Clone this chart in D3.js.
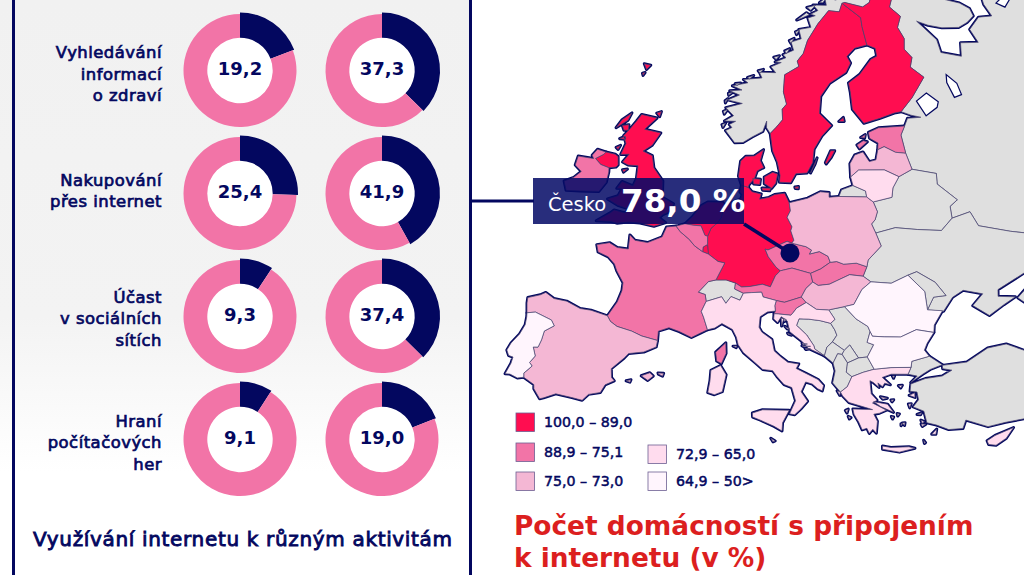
<!DOCTYPE html>
<html lang="cs">
<head>
<meta charset="utf-8">
<script src="https://cdn.jsdelivr.net/npm/d3@7"></script>
<style>
html, body { margin: 0; padding: 0; background: #fff; overflow: hidden; }
svg { display: block; font-family: "DejaVu Sans", sans-serif; }
</style>
</head>
<body>
<div id="chart"></div>
<script>
// donut data
const activities = [
  ["Vyhledávání", "informací", "o zdraví"],
  ["Nakupování", "přes internet"],
  ["Účast", "v sociálních", "sítích"],
  ["Hraní", "počítačových", "her"]
]
const valuesLeft = [19.2, 25.4, 9.3, 9.1]
const valuesRight = [37.3, 41.9, 37.4, 19.0]

// legend
const legendLabels = ["100,0 – 89,0", "88,9 – 75,1", "75,0 – 73,0", "72,9 – 65,0", "64,9 – 50>"]
const classColors = ["#ff0d50", "#f274a7", "#f4b7d4", "#ffdcee", "#fff5fd"]
const noData = "#dfdfdf"

// country outlines, [lon, lat]
const portugal = [[[-8.9,41.9],[-8.2,42.15],[-6.6,41.95],[-6.2,41.6],[-6.9,41],[-6.9,40.3],[-7,39.7],[-7.4,39.6],[-7,39],[-7.3,38.4],[-7,38.2],[-7.5,37.5],[-7.4,37.2],[-7.9,37],[-8.6,37.1],[-9,37],[-8.8,37.9],[-8.8,38.4],[-9.2,38.4],[-9.5,38.75],[-9.35,39.35],[-8.9,40.2],[-8.7,41],[-8.8,41.6]]]
const spain = [[[-8.9,41.9],[-9.2,42.6],[-9.3,43],[-8.3,43.5],[-7.9,43.8],[-7,43.55],[-5.8,43.65],[-4.4,43.4],[-3.4,43.5],[-1.8,43.4],[-1.4,43.05],[-0.7,42.8],[0.7,42.7],[1.7,42.5],[3.2,42.4],[3.2,41.9],[2.2,41.35],[0.9,41],[0.6,40.6],[-0.3,39.6],[-0.1,38.95],[0.2,38.75],[-0.5,38.3],[-0.75,37.65],[-1.7,37.3],[-2.1,36.75],[-3,36.75],[-4.4,36.7],[-5.3,36.15],[-5.6,36],[-6.3,36.6],[-6.4,36.9],[-7.4,37.2],[-7.5,37.5],[-7,38.2],[-7.3,38.4],[-7,39],[-7.4,39.6],[-7,39.7],[-6.9,40.3],[-6.9,41],[-6.2,41.6],[-6.6,41.95],[-8.2,42.15]],
  [[2.4,39.55],[3.1,39.9],[3.45,39.7],[3.05,39.3]],[[3.8,40],[4.3,40.05],[4.25,39.82],[3.85,39.92]],[[1.2,38.95],[1.6,39.1],[1.55,38.9]]]
const france = [[[-1.8,43.4],[-1.25,44.6],[-1.1,45.5],[-1.2,46.1],[-2.1,46.85],[-2.5,47.3],[-3.3,47.7],[-4.4,47.85],[-4.75,48.35],[-3.6,48.75],[-2.7,48.55],[-1.6,48.65],[-1.85,49.7],[-1.2,49.4],[0.1,49.45],[1.4,50.1],[1.6,50.9],[2.55,51.1],[3.1,50.75],[4.2,50.3],[4.85,49.9],[5.8,49.55],[6.4,49.45],[7.5,49],[8.2,48.95],[7.6,47.6],[6.9,47.4],[6.1,46.5],[6.8,46.4],[7,45.9],[6.7,45.1],[7,44.7],[7.55,43.8],[7,43.5],[6.2,43.05],[5,43.35],[4,43.5],[3.1,43.1],[3.2,42.4],[1.7,42.5],[0.7,42.7],[-0.7,42.8],[-1.4,43.05]],
  [[9.4,43],[9.55,42.2],[9.25,41.4],[8.8,41.55],[8.6,42.2],[9.1,42.7]]]
const italy = [[[7.55,43.8],[8.2,44],[8.8,44.4],[9.85,44.05],[10.3,43.5],[10.55,42.95],[11.1,42.4],[12.2,41.75],[13,41.25],[13.9,41.2],[14.3,40.8],[15,40.2],[15.7,40],[16.1,39],[15.65,38],[16.1,37.95],[16.6,38.4],[17.15,39],[16.55,39.7],[16.9,40.45],[17.5,40.3],[18,39.95],[18.4,39.8],[18.5,40.2],[18,40.65],[16.9,41.1],[16,41.45],[16.2,41.8],[15.2,41.9],[14.5,42.3],[13.9,42.7],[13.6,43.55],[12.6,44.05],[12.3,44.4],[12.3,45.2],[12.95,45.6],[13.7,45.7],[13.6,46.1],[13.7,46.5],[12.4,46.7],[12.2,47.05],[11.2,46.95],[10.45,46.85],[10.2,46.3],[9.3,46.5],[8.9,45.95],[8.4,46.4],[7,45.9],[6.7,45.1],[7,44.7]],
  [[8.4,40.8],[9.2,41.25],[9.8,40.6],[9.65,39.3],[9,39],[8.4,39.1],[8.45,40]],
  [[12.45,37.9],[13.3,38.2],[15.6,38.27],[15.1,37.3],[15.1,36.68],[14.4,37],[13.2,37.4],[12.5,37.6]],
  [[10.1,42.8],[10.45,42.85],[10.4,42.72]],[[14.2,36.08],[14.58,35.9],[14.4,35.82]]]
const britain = [[[1.4,51.2],[0.3,50.75],[-1.2,50.75],[-2.4,50.6],[-3.5,50.3],[-4.1,50.3],[-5.6,50.05],[-4.5,50.9],[-4.2,51.2],[-3,51.2],[-2.7,51.55],[-4,51.6],[-5.25,51.85],[-4.3,52.3],[-4.15,52.9],[-4.7,52.8],[-4.4,53.4],[-3.1,53.3],[-3,53.9],[-3.3,54.85],[-4.4,54.7],[-5.1,54.8],[-4.7,55.5],[-5.6,55.3],[-5.5,56.2],[-6.1,56.7],[-5.7,57.3],[-5.3,58],[-5,58.6],[-3.05,58.65],[-4,57.6],[-2,57.65],[-2.5,56.6],[-3.3,56],[-2.1,55.85],[-1.5,55],[-0.1,54.2],[0.2,53.4],[0.35,53],[1.7,52.7],[1.6,52.1],[0.9,51.75],[0.6,51.45]],
  [[-5.45,54.5],[-5.8,55.1],[-6.2,55.2],[-7.3,55.15],[-7.4,54.95],[-8.1,54.45],[-7.3,54.15],[-6.3,54.1],[-5.6,54.3]],
  [[-7,57.8],[-6.2,58.5],[-6.3,57.9],[-7.3,57.1]],[[-6.7,57.4],[-6,57.6],[-5.8,57.2],[-6.3,57.1]],[[-6.4,56.4],[-5.7,56.5],[-5.9,56.7]],[[-6.4,55.7],[-6,55.95],[-6.1,55.6]],[[-3.3,59],[-2.8,59.2],[-2.8,58.8]],[[-4.6,54.1],[-4.3,54.4],[-4.8,54.25]],
  [[-7.3,62.25],[-6.4,62.3],[-6.7,61.9]],[[-7,61.55],[-6.7,61.65],[-6.8,61.4]]]
const ireland = [[[-6.3,54.1],[-7.3,54.15],[-8.1,54.45],[-7.4,54.95],[-7.3,55.15],[-8.3,55.15],[-8.6,54.6],[-8.3,54.4],[-10,54.2],[-9.9,53.5],[-9,53.2],[-9.5,52.6],[-10.3,52.1],[-9.7,51.5],[-8.3,51.8],[-6.4,52.2],[-6,53],[-6.15,53.8]]]
const germany = [[[8.65,54.9],[9.45,54.8],[9.95,54.5],[11,54.4],[10.9,54],[11.9,54.2],[12.5,54.45],[13.6,54.6],[14.2,53.9],[14.4,53.3],[14.1,52.8],[14.7,52.1],[14.6,51.8],[15,51.1],[14.8,50.87],[14.3,51],[13.4,50.65],[12.4,50.25],[12.1,50.3],[12.5,49.75],[13.4,49],[13.85,48.75],[13.4,48.35],[13,47.5],[12.2,47.65],[11,47.4],[10.2,47.3],[9.55,47.55],[8.6,47.7],[7.6,47.6],[8.2,48.95],[7.5,49],[6.4,49.45],[6.15,50.15],[6,50.75],[6.2,51.4],[6.8,51.9],[7.05,52.3],[7.2,53.25],[8.1,53.6],[8.8,53.85],[8.9,54.2],[8.6,54.4]]]
const netherlands = [[[3.4,51.4],[4,52],[4.7,52.95],[5.3,53.3],[6.9,53.45],[7.2,53.25],[7.05,52.3],[6.8,51.9],[6.2,51.4],[6,50.75],[5.7,50.8],[5.1,51.45],[4.3,51.4]]]
const belgium = [[[2.55,51.1],[3.4,51.4],[4.3,51.4],[5.1,51.45],[5.7,50.8],[6,50.75],[6.15,50.15],[5.75,49.9],[5.8,49.55],[4.85,49.9],[4.2,50.3],[3.1,50.75]]]
const luxembourg = [[[6.15,50.15],[6.4,49.45],[5.8,49.55],[5.75,49.9]]]
const denmark = [[[8.65,54.9],[8.15,55.55],[8.1,56.7],[8.6,57.1],[9.6,57.2],[10.6,57.74],[10.4,56.9],[10.9,56.4],[10.2,56.1],[10,55.5],[9.5,55],[9.45,54.8]],
  [[11.1,55.7],[12,56.1],[12.6,56],[12.5,55.3],[12.1,54.9],[11.2,55.2]],[[9.8,55.5],[10.7,55.5],[10.7,55.1],[10,55.1]],[[11,54.85],[12,54.9],[11.9,54.7],[11.1,54.7]],[[14.7,55.1],[15.1,55.15],[15.1,54.98],[14.75,55]]]
const sweden = [[[11.15,59],[11.7,57.7],[12.4,56.9],[12.9,55.9],[12.9,55.4],[14.2,55.4],[14.7,56.1],[16,56.2],[16.6,57],[16.7,58],[17.6,59],[18.8,59.8],[17.2,60.7],[17.3,62],[18.5,63],[20.8,63.8],[21.5,64.5],[21,65],[22.2,65.6],[24.1,65.8],[23.6,67.2],[23.5,67.9],[20.5,69.05],[20,68.4],[18.2,68.5],[16.5,67.5],[15,66.2],[14.5,65.2],[13.7,64.6],[14,64.2],[12.1,63.5],[12.2,62.2],[12.8,61.3],[12.3,60.9],[12.5,60.1],[11.8,59.5]],
  [[18.1,57],[18.7,57.9],[19.2,57.9],[18.8,57.4],[18.2,56.9]],[[16.4,56.2],[17.1,57.35],[16.9,56.9]]]
const finland = [[[24.1,65.8],[25.3,65.5],[25.4,64.9],[24.5,64.7],[22.7,63.6],[21.1,63],[21.3,62.3],[21.5,61],[22.9,59.9],[25,60.2],[26.9,60.5],[27.8,60.55],[29.5,61.5],[31.6,62.9],[30,63.8],[30.5,64.5],[29.6,65.2],[29.9,66],[29.2,66.9],[30,67.7],[28.5,68.5],[29,69],[29.3,69.5],[28.9,70],[27.9,70.1],[26,69.9],[25.2,69],[24,68.7],[21,69.1],[20.5,69.05],[23.5,67.9],[23.6,67.2]],
  [[19.7,60.1],[20.3,60.4],[20.4,60.1]]]
const norway = [[[11.15,59],[10.6,59.4],[10.5,59.9],[10.2,59.1],[9,58.6],[8,58.1],[7,58],[5.6,58.8],[6.3,59.1],[5.9,59.3],[6.6,59.6],[5.2,59.5],[6.2,60],[5,60.5],[7,61],[5,61.1],[6.4,61.6],[5,61.8],[6.6,62],[5.2,62.2],[7.2,62.6],[6.5,62.8],[9,63.1],[8.5,63.5],[10.8,63.6],[10,64],[11.4,64.4],[10.5,64.4],[12,64.8],[11.5,65],[13,65.4],[12.5,66],[14,66.3],[13.5,67],[15.4,67.2],[14.8,67.9],[16,68.1],[15.2,68.2],[16.4,68.5],[15.5,68.9],[17.8,68.9],[17.5,69.5],[19.5,69.3],[19,70.1],[21,69.8],[21,70.2],[23,70],[23.5,70.9],[25.3,70.2],[25.8,71.1],[28.5,71],[28,70.3],[31,70.3],[29,69.7],[30.8,69.8],[29.3,69.5],[28.9,70],[27.9,70.1],[26,69.9],[25.2,69],[24,68.7],[21,69.1],[20.5,69.05],[20,68.4],[18.2,68.5],[16.5,67.5],[15,66.2],[14.5,65.2],[13.7,64.6],[14,64.2],[12.1,63.5],[12.2,62.2],[12.8,61.3],[12.3,60.9],[12.5,60.1],[11.8,59.5]],
  // skerries and islands off the coast
  [[5,59.2],[5.4,59.35],[5.2,59]],[[4.8,60.2],[5.3,60.4],[5,60]],[[4.7,61],[5,61.2],[4.8,60.85]],[[4.9,61.6],[5.4,61.7],[5,61.45]],[[5.5,62.4],[6.2,62.5],[5.8,62.25]],[[7,63],[7.8,63.2],[7.3,62.9]],[[8.3,63.6],[9,63.75],[8.6,63.45]],[[10.2,64.75],[11,64.9],[10.6,64.6]],[[11.7,65.3],[12.4,65.5],[12,65.1]],[[12.2,66.1],[12.9,66.3],[12.5,65.9]],[[13,66.8],[13.6,66.95],[13.2,66.6]],[[13,67.7],[14.5,68.3],[15,68.15],[13.5,67.8]],[[14.5,68.7],[16,68.9],[15.2,68.5]],[[16.6,69.1],[17.9,69.55],[17.2,69.1]],[[17.9,69.8],[19.2,70.1],[18.5,69.6]],[[19.8,70.1],[20.6,70.3],[20.2,69.9]],[[21.6,70.3],[22.9,70.65],[22.2,70.25]],[[23.2,71.05],[24.8,71.1],[24,70.75]]]
const switzerland = [[[6.1,46.5],[6.9,47.4],[7.6,47.6],[8.6,47.7],[9.55,47.55],[9.55,47.1],[10.45,46.85],[10.2,46.3],[9.3,46.5],[8.9,45.95],[8.4,46.4],[7,45.9],[6.8,46.4]]]
const austria = [[[9.55,47.55],[10.2,47.3],[11,47.4],[12.2,47.65],[13,47.5],[13.4,48.35],[13.85,48.75],[15,49],[16.9,48.65],[17.15,48],[16.5,47.5],[16.1,46.85],[14.5,46.4],[13.7,46.5],[12.4,46.7],[12.2,47.05],[11.2,46.95],[10.45,46.85],[9.55,47.1]]]
const czechia = [[[12.1,50.3],[12.4,50.25],[13.4,50.65],[14.3,51],[14.8,50.87],[16.3,50.65],[16.9,50.4],[16.7,50.1],[17.7,50.3],[18.6,49.95],[18.85,49.5],[17.9,49],[16.9,48.65],[15,49],[13.85,48.75],[13.4,49],[12.5,49.75]]]
const slovakia = [[[16.9,48.65],[17.9,49],[18.85,49.5],[19.5,49.55],[20.2,49.35],[21.5,49.4],[22.55,49.1],[22.15,48.4],[20.8,48.55],[19.5,48.1],[18.8,47.85],[17.7,47.75],[17.15,48]]]
const poland = [[[14.2,53.9],[16.2,54.3],[17.6,54.8],[18.6,54.75],[18.6,54.4],[19.7,54.45],[22.8,54.35],[23.5,53.95],[23.9,53.2],[23.6,52.6],[23.2,52.3],[23.6,51.6],[24.1,50.6],[22.7,49.6],[22.55,49.1],[21.5,49.4],[20.2,49.35],[19.5,49.55],[18.85,49.5],[18.6,49.95],[17.7,50.3],[16.7,50.1],[16.9,50.4],[16.3,50.65],[14.8,50.87],[15,51.1],[14.6,51.8],[14.7,52.1],[14.1,52.8],[14.4,53.3]]]
const hungary = [[[16.1,46.85],[16.5,47.5],[17.15,48],[17.7,47.75],[18.8,47.85],[19.5,48.1],[20.8,48.55],[22.15,48.4],[22.9,47.95],[22,47.4],[21.2,46.3],[20.3,46.15],[19,45.95],[18.8,45.9],[17.6,45.95],[16.6,46.45]]]
const slovenia = [[[13.7,46.5],[14.5,46.4],[16.1,46.85],[16.6,46.45],[15.7,46],[15.4,45.65],[15.2,45.45],[14,45.5],[13.6,45.5],[13.7,45.7],[13.6,46.1]]]
const croatia = [[[13.6,45.5],[14,45.5],[15.2,45.45],[15.4,45.65],[15.7,46],[16.6,46.45],[17.6,45.95],[18.8,45.9],[19.4,45.2],[19,44.9],[18,45.1],[16.9,45.2],[16,45.2],[15.8,44.7],[16.1,44.5],[16.8,44],[17.5,43.2],[17.6,42.95],[18.5,42.45],[17,43],[16.4,43.5],[15.2,44.2],[14.9,45],[14.3,45.3],[14,44.85],[13.6,45.1]],
  [[14.3,45.2],[14.55,45.15],[14.4,44.6]],[[14.5,45.2],[14.8,45.1],[14.65,44.95]],[[14.7,44.6],[15.2,44.4],[14.95,44.4]],[[16.4,43.38],[16.9,43.32],[16.5,43.26]],[[16.4,43.18],[17.2,43.15],[16.6,43.1]],[[16.7,42.97],[17.2,42.97],[16.8,42.9]],[[15,44.1],[15.4,43.95],[15.1,44]]]
const bosnia = [[[15.8,44.7],[16,45.2],[16.9,45.2],[18,45.1],[19,44.9],[19.4,44.4],[19.6,44],[19.2,43.5],[18.7,43.1],[18.5,42.45],[17.6,42.95],[17.5,43.2],[16.8,44],[16.1,44.5]]]
const serbia = [[[19,45.95],[20.3,46.15],[21.4,45.2],[22.5,44.6],[22.7,44.2],[22.4,43.4],[23,43.2],[22.4,42.3],[21.6,42.25],[20.8,43.25],[20.3,42.85],[19.2,43.5],[19.6,44],[19.4,44.4],[19,44.9],[19.4,45.2],[18.8,45.9]]]
const montenegro = [[[18.5,42.45],[18.7,43.1],[19.2,43.5],[20.3,42.85],[20.1,42.55],[19.7,42.6],[19.3,41.9]]]
const kosovo = [[[20.1,42.55],[20.3,42.85],[20.8,43.25],[21.6,42.25],[20.6,41.9]]]
const albania = [[[19.3,41.9],[19.7,42.6],[20.1,42.55],[20.6,41.9],[20.5,41.2],[21,40.85],[20.6,40.1],[20,39.7],[19.3,40.4],[19.5,41.3]]]
const macedonia = [[[20.6,41.9],[21.6,42.25],[22.4,42.3],[23,41.35],[22,41.15],[21,40.85],[20.5,41.2]]]
const romania = [[[20.3,46.15],[21.2,46.3],[22,47.4],[22.9,47.95],[24.9,47.75],[26.6,48.25],[28.1,46.9],[28.2,45.5],[29.6,45.3],[28.7,44.3],[28.6,43.75],[27,44.1],[25.5,43.65],[24,43.75],[22.9,43.85],[22.7,44.2],[22.5,44.6],[21.4,45.2]]]
const bulgaria = [[[22.7,44.2],[22.9,43.85],[24,43.75],[25.5,43.65],[27,44.1],[28.6,43.75],[27.9,43],[27.6,42.5],[28,42],[26.4,41.75],[26.3,41.3],[24.5,41.4],[23,41.35],[22.4,42.3],[23,43.2],[22.4,43.4]]]
const greece = [[[20,39.7],[20.6,40.1],[21,40.85],[22,41.15],[23,41.35],[24.5,41.4],[26.3,41.3],[26,40.8],[24.5,40.9],[23.7,40.7],[24.4,40.1],[23.9,40.25],[23.7,40],[23.3,40.3],[23.4,39.95],[22.9,40.35],[22.6,40.5],[22.7,39.5],[23.2,39],[22.8,38.8],[24,38.2],[23.4,38],[22.9,37.95],[23.2,37.4],[23.1,36.5],[22.8,36.8],[22.5,36.5],[22.3,36.9],[21.9,36.8],[21.6,37.4],[21.2,38],[21.1,38.4],[22.8,38.3],[20.75,38.9],[20.2,39.4]],
  [[23.6,35.5],[24.3,35.35],[25.8,35.3],[26.3,35.15],[25,34.95],[23.6,35.25]],[[27.75,36.1],[28.2,36.45],[28.1,36.05]],[[22.9,38.9],[24.1,38.65],[24.6,38],[23.5,38.5]],[[26,39.2],[26.5,39.35],[26.5,39]],[[25.9,38.55],[26.15,38.55],[26,38.25]],[[26.6,37.7],[27,37.8],[26.9,37.65]],[[25.1,40],[25.45,40],[25.3,39.8]],[[24.6,40.75],[24.8,40.75],[24.7,40.58]],[[19.7,39.8],[20,39.7],[19.95,39.45]],[[20.45,38.3],[20.7,38.4],[20.6,38.1]],[[20.7,37.85],[20.95,37.75],[20.8,37.65]],[[25.3,37.15],[25.55,37.15],[25.5,36.95]],[[24.9,37.9],[25.1,37.85],[24.95,37.7]],[[26.9,36.95],[27.3,36.9],[27,36.75]],[[27.05,35.7],[27.2,35.5],[27.1,35.45]],[[24.4,37.7],[24.6,37.65],[24.5,37.5]],[[25.35,37.1],[25.2,37.1],[25.2,36.95]],[[23.5,39.25],[24.1,39.1],[23.7,39.05]],[[24.4,38.95],[24.65,38.95],[24.5,38.8]],[[26.9,37.25],[27.2,37.1],[27,37]]]
const cyprus = [[[32.3,35.05],[33,35.35],[34.6,35.7],[33.9,35],[33,34.6],[32.4,34.75]]]
const turkey = [[[26,40.8],[26.3,41.3],[26.4,41.75],[28,42],[29.1,41.25],[28,41],[27.3,40.7],[26.7,40.4],[26.2,40.15],[26.8,40.6]],
  [[29.1,41.2],[31.3,41.2],[33.3,42],[35,42.05],[36.5,41.3],[41,41],[45,40],[45,36.5],[36,36.2],[34,36.2],[32.5,36.1],[30.7,36.85],[30.4,36.25],[29.2,36.3],[28.2,36.75],[27.4,37],[27.2,37.9],[26.3,38.3],[26.8,38.8],[26.7,39.4],[26.1,39.5],[26.2,40.05],[27.5,40.35],[29,40.4],[29.9,40.75],[29.1,40.95]]]
const estonia = [[[24.4,57.85],[24.5,58.35],[23.5,58.75],[23.4,59.2],[24.7,59.5],[28,59.45],[27.4,58.8],[27.7,57.4],[26.5,57.55],[25.2,58.05]],[[21.9,58.3],[22.7,58.6],[23.2,58.5],[22.2,58]],[[22.4,58.85],[23,59.05],[22.9,58.8]]]
const latvia = [[[21.05,55.9],[21,56.9],[21.6,57.55],[22.6,57.75],[23.3,57],[24.1,57.1],[24.4,57.85],[25.2,58.05],[26.5,57.55],[27.7,57.4],[28.2,56.15],[26.6,55.7],[25,56.3],[22,56.4]]]
const lithuania = [[[21.05,55.9],[22,56.4],[25,56.3],[26.6,55.7],[25.8,54.9],[25.6,54.2],[23.5,53.95],[22.8,54.35],[22.7,54.8],[21.3,55.25]]]
const kaliningrad = [[[19.7,54.45],[22.8,54.35],[22.7,54.8],[21.3,55.25],[20,54.95]]]
const belarus = [[[23.6,51.6],[23.2,52.3],[23.6,52.6],[23.9,53.2],[23.5,53.95],[25.6,54.2],[25.8,54.9],[26.6,55.7],[28.2,56.15],[30.9,55.6],[30.8,54.8],[32.7,53.4],[31.8,53],[31.8,52.1],[30.5,51.3],[28,51.6],[25.7,51.9]]]
const ukraine = [[[22.15,48.4],[22.55,49.1],[22.7,49.6],[24.1,50.6],[23.6,51.6],[25.7,51.9],[28,51.6],[30.5,51.3],[31.8,52.1],[33.8,52.35],[34.4,51.2],[37.5,50.3],[40.1,49.6],[39.7,47.9],[38.2,47.1],[35.1,46.2],[35,45.7],[36.6,45.4],[35.4,45],[33.9,44.4],[32.5,45.35],[33.6,46.1],[31.8,46.6],[30.7,46.2],[29.7,45.25],[28.2,45.5],[28.9,46.4],[30.1,46.4],[29.2,47.5],[27.5,48.45],[26.6,48.25],[24.9,47.75],[22.9,47.95]]]
const moldova = [[[26.6,48.25],[27.5,48.45],[29.2,47.5],[30.1,46.4],[28.9,46.4],[28.2,45.5],[28.1,46.9]]]
const russia = [[[28,59.45],[28.5,60],[30.2,59.95],[29,60.2],[27.8,60.55],[29.5,61.5],[31.6,62.9],[30,63.8],[30.5,64.5],[29.6,65.2],[29.9,66],[29.2,66.9],[30,67.7],[28.5,68.5],[29,69],[29.3,69.5],[30.8,69.8],[33,69.5],[36,69],[38,68.3],[40,67.8],[41.2,67.2],[41.3,66.6],[40,66.25],[38.5,66.05],[36,66.3],[34,66.7],[32.4,67.15],[33.5,66.4],[34.7,65.5],[34.8,64.5],[37.5,63.9],[38,64.9],[40.5,64.6],[40,65.7],[42,66.4],[44,66.2],[43.6,67.2],[44,68.4],[50,68.5],[60,70],[60,45],[45,42],[41,41.6],[39,43.5],[37.5,44.7],[36.8,45.3],[38,46],[39.3,47.2],[38.2,47.1],[39.7,47.9],[40.1,49.6],[37.5,50.3],[34.4,51.2],[33.8,52.35],[31.8,52.1],[31.8,53],[32.7,53.4],[30.8,54.8],[30.9,55.6],[28.2,56.15],[27.7,57.4],[27.4,58.8]]]
// big lakes, drawn white over the land
const lakes = [[[30.9,60],[32.5,60.5],[32.8,60.9],[31.5,61.7],[30,61.2]],[[35,61],[36,61.1],[35.8,62],[34.7,62.8],[34.5,62.2]],[[45.5,67],[47,67.3],[48,67],[46.5,66.5]]]

const countries = [
  [norway, -1], [russia, -1], [belarus, -1], [ukraine, -1], [moldova, -1], [kaliningrad, -1], [switzerland, -1],
  [bosnia, -1], [serbia, -1], [montenegro, -1], [kosovo, -1], [albania, -1], [macedonia, -1], [turkey, -1],
  [britain, 0], [sweden, 0], [finland, 0], [germany, 0], [denmark, 0], [netherlands, 0], [luxembourg, 0],
  [ireland, 1], [france, 1], [belgium, 1], [estonia, 1], [czechia, 1], [austria, 1], [slovakia, 1], [slovenia, 1],
  [spain, 2], [poland, 2], [latvia, 2], [hungary, 2],
  [italy, 3], [greece, 3], [croatia, 3], [lithuania, 3], [cyprus, 3],
  [portugal, 4], [romania, 4], [bulgaria, 4]
]

const width = 1024
const height = 575
const navy = "#03075f"

const svg = d3.select("#chart")
  .append("svg")
  .attr("width", width)
  .attr("height", height)
  .attr("viewBox", [0, 0, width, height])

const grad = svg.append("defs").append("linearGradient")
  .attr("id", "panel").attr("x1", 0).attr("x2", 0).attr("y1", 0).attr("y2", 1)
grad.append("stop").attr("offset", "0%").attr("stop-color", "#f1f1f1")
grad.append("stop").attr("offset", "55%").attr("stop-color", "#f3f3f3")
grad.append("stop").attr("offset", "82%").attr("stop-color", "#ffffff")

// map projection, then a small fit to the picture (meridians spread more in the north)
const geo = d3.geoAzimuthalEqualArea().rotate([-15, -52]).scale(1).translate([0, 0])
const place = d => {
  const [x, y] = geo(d)
  return [843 * x - 52 * y + 149 * x * (0.2 - y) + 794.7, 39 * x + 760 * y + 228.3]
}
const ringPath = d3.line().x(d => place(d)[0]).y(d => place(d)[1])
const outline = rings => rings.map(r => ringPath(r) + "Z").join("")

const map = svg.append("g")
// coast: wide navy stroke under everything, fills on top keep only the outer half
map.append("g").selectAll("path").data(countries).join("path")
  .attr("d", d => outline(d[0]))
  .attr("fill", navy)
  .attr("stroke", navy)
  .attr("stroke-width", 3)
  .attr("stroke-linejoin", "round")
map.append("g").selectAll("path").data(countries).join("path")
  .attr("d", d => outline(d[0]))
  .attr("fill", d => d[1] < 0 ? noData : classColors[d[1]])
  .attr("stroke", "#4a4670")
  .attr("stroke-width", 0.7)
  .attr("stroke-linejoin", "round")
map.append("g").selectAll("path").data(lakes).join("path")
  .attr("d", d => ringPath(d) + "Z")
  .attr("fill", "#fff")
  .attr("stroke", navy)
  .attr("stroke-width", 1.2)

// left panel
svg.append("rect").attr("x", 0).attr("y", 0).attr("width", 470).attr("height", height).attr("fill", "url(#panel)")
svg.selectAll("line.frame").data([13.5, 470.5]).join("line")
  .attr("class", "frame")
  .attr("x1", d => d).attr("x2", d => d).attr("y1", 0).attr("y2", height)
  .attr("stroke", navy).attr("stroke-width", 3)

// donuts
const rowY = d3.scalePoint().domain(d3.range(4)).range([70.5, 439.5])
const columns = [[240, valuesLeft], [382, valuesRight]]
const pie = d3.pie().sort(null).value(d => d)
const arcShare = d3.arc().innerRadius(32.7).outerRadius(58)
const arcRest = d3.arc().innerRadius(32.7).outerRadius(56.5)

columns.forEach(([cx, values]) => {
  const donut = svg.append("g").selectAll("g").data(values).join("g")
    .attr("transform", (d, i) => `translate(${cx},${rowY(i)})`)
  donut.append("circle").attr("r", 33).attr("fill", "#fff")
  donut.selectAll("path").data(d => pie([d, 100 - d])).join("path")
    .attr("d", (d, i) => i === 0 ? arcShare(d) : arcRest(d))
    .attr("fill", (d, i) => i === 0 ? navy : classColors[1])
  donut.append("text")
    .attr("y", 4.5)
    .attr("text-anchor", "middle")
    .attr("font-size", 18)
    .attr("font-weight", "bold")
    .attr("fill", navy)
    .text(d => d3.format(".1f")(d).replace(".", ","))
})

// row labels
const labelY = [58.3, 185.7, 303, 427]
const lineGap = 21.3
svg.append("g").selectAll("text").data(activities).join("text")
  .attr("text-anchor", "end")
  .attr("font-size", 16.4)
  .attr("letter-spacing", 0.5)
  .attr("fill", navy)
  .attr("stroke", navy)
  .attr("stroke-width", 0.7)
  .attr("y", (d, i) => labelY[i])
  .selectAll("tspan").data(d => d).join("tspan")
  .attr("x", 162)
  .attr("dy", (d, i) => i ? lineGap : 0)
  .text(d => d)

svg.append("text")
  .attr("x", 33).attr("y", 546)
  .attr("font-size", 20)
  .attr("fill", navy)
  .attr("stroke", navy)
  .attr("stroke-width", 0.85)
  .attr("textLength", 419)
  .text("Využívání internetu k různým aktivitám")

// callout
svg.append("line")
  .attr("x1", 470).attr("x2", 534).attr("y1", 201).attr("y2", 201)
  .attr("stroke", navy).attr("stroke-width", 3)
svg.append("rect")
  .attr("x", 533).attr("y", 178).attr("width", 211).attr("height", 46)
  .attr("fill", "#050a66").attr("fill-opacity", 0.86)
svg.append("line")
  .attr("x1", 744).attr("y1", 224).attr("x2", 790).attr("y2", 253)
  .attr("stroke", navy).attr("stroke-width", 3.5)
svg.append("circle").attr("cx", 790).attr("cy", 253).attr("r", 9.5).attr("fill", navy)
svg.append("text")
  .attr("x", 548).attr("y", 211)
  .attr("font-size", 19.5).attr("fill", "#fff")
  .text("Česko")
svg.append("text")
  .attr("x", 621).attr("y", 212)
  .attr("font-size", 32.6).attr("font-weight", "bold").attr("fill", "#fff")
  .text("78,0 %")

// legend
const legendPos = [[516, 413], [516, 443], [516, 472], [648, 445], [648, 472]]
const legend = svg.append("g").selectAll("g").data(legendLabels).join("g")
  .attr("transform", (d, i) => `translate(${legendPos[i]})`)
legend.append("rect")
  .attr("width", 18.5).attr("height", 18.5)
  .attr("fill", (d, i) => classColors[i])
  .attr("stroke", "#6d5f92").attr("stroke-width", 0.8)
legend.append("text")
  .attr("x", 28).attr("y", 14)
  .attr("font-size", 14.2)
  .attr("fill", navy)
  .attr("stroke", navy).attr("stroke-width", 0.5)
  .text(d => d)

// map title
svg.append("g").selectAll("text").data(["Počet domácností s připojením", "k internetu (v %)"]).join("text")
  .attr("x", 514)
  .attr("y", (d, i) => 535 + i * 31.5)
  .attr("font-size", 26.4)
  .attr("font-weight", "bold")
  .attr("fill", "#dc1f1f")
  .text(d => d)
</script>
</body>
</html>
